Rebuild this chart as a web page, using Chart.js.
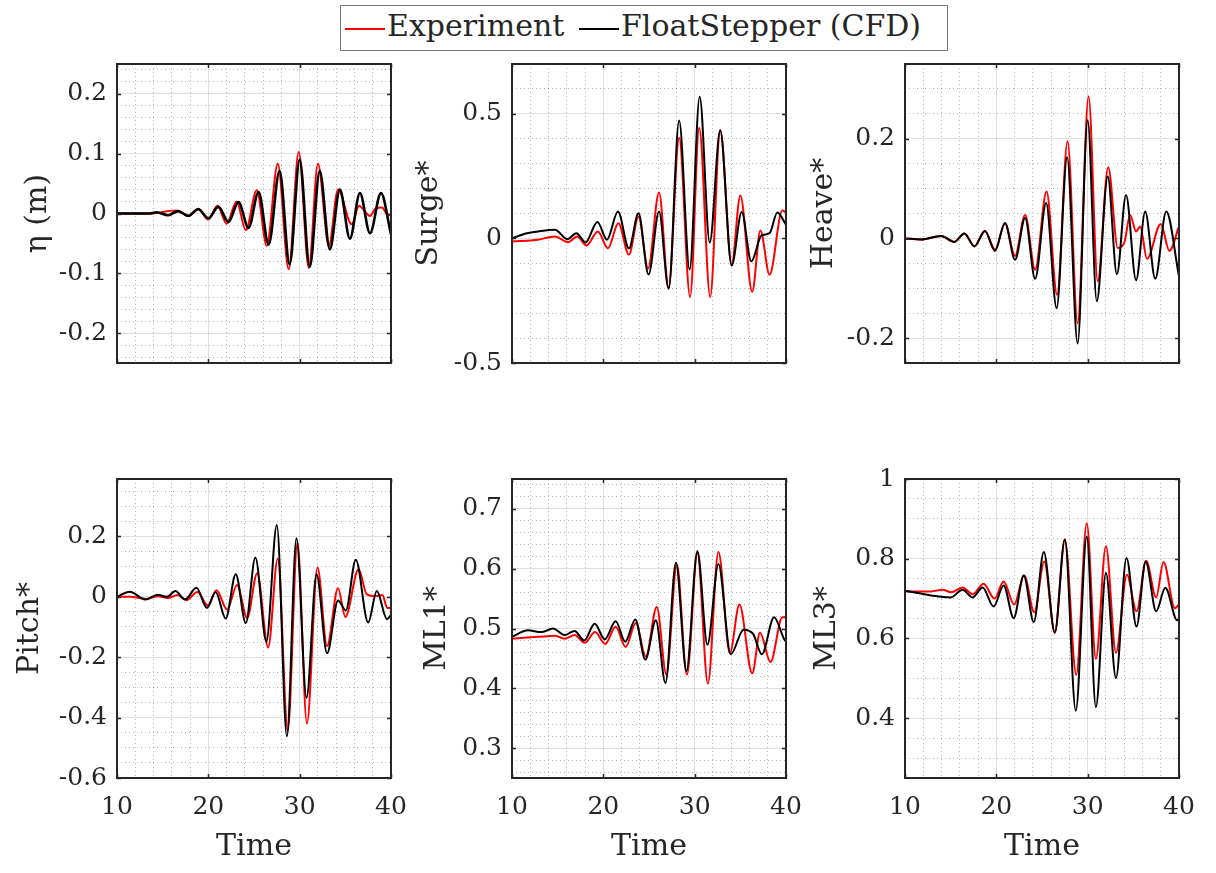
<!DOCTYPE html>
<html>
<head>
<meta charset="utf-8">
<script src="https://cdn.jsdelivr.net/npm/chart.js@4.4.0/dist/chart.umd.min.js"></script>
<style>
  body { margin: 0; background: #fff; }
  #page { position: relative; width: 1216px; height: 873px; overflow: hidden; background: #fff; }
  canvas { position: absolute; }
  #legend {
    position: absolute; left: 340px; top: 5px; width: 606px; height: 44px;
    border: 1.5px solid #7a7a7a; background: #fff;
    font-family: 'DejaVu Serif', serif; font-size: 30px; color: #262626;
  }
  #legend .sw { position: absolute; top: 22px; width: 40px; height: 2px; }
  #legend .lt { position: absolute; top: -1px; line-height: 42px; white-space: nowrap; }
</style>
</head>
<body>
<div id="page">
  <div id="legend">
    <span class="sw" style="left:4px;background:#ff0000"></span><span class="lt" style="left:46px">Experiment</span>
    <span class="sw" style="left:238px;background:#000"></span><span class="lt" style="left:280px">FloatStepper (CFD)</span>
  </div>
  <canvas id="eta"></canvas>
  <canvas id="surge"></canvas>
  <canvas id="heave"></canvas>
  <canvas id="pitch"></canvas>
  <canvas id="ml1"></canvas>
  <canvas id="ml3"></canvas>
</div>
<script>
// wave elevation eta (m)
const timeEtaExp = [10, 13.5, 16.5, 17.8, 18.9, 20.0, 21.0, 22.0, 23.1, 24.1, 25.3, 26.4, 27.6, 28.8, 29.9, 31.0, 32.0, 33.2, 34.2, 35.7, 36.5, 37.0, 37.7, 38.3, 39.0, 39.7, 40];
const etaExp = [0, 0, 0.005, -0.004, 0.008, -0.01, 0.013, -0.017, 0.02, -0.028, 0.039, -0.054, 0.083, -0.093, 0.103, -0.091, 0.083, -0.054, 0.04, -0.018, 0.013, 0.006, -0.004, 0.008, 0.01, -0.003, -0.002];
const timeEtaCfd = [10, 13.5, 14.3, 15.6, 16.7, 17.8, 18.9, 20.0, 21.1, 22.2, 23.3, 24.4, 25.5, 26.6, 27.8, 28.9, 30.0, 31.1, 32.2, 33.3, 34.4, 35.5, 36.6, 37.7, 38.9, 40];
const etaCfd = [0, 0, 0.002, -0.003, 0.004, -0.004, 0.007, -0.008, 0.011, -0.014, 0.019, -0.024, 0.036, -0.052, 0.071, -0.085, 0.09, -0.089, 0.071, -0.06, 0.04, -0.042, 0.034, -0.033, 0.034, -0.035];

// surge
const timeSurgeExp = [10, 12.85, 14.7, 16.15, 17.15, 18.15, 19.4, 20.5, 21.65, 22.8, 23.85, 24.9, 26.1, 27.15, 28.3, 29.5, 30.5, 31.7, 32.8, 34.05, 35.0, 36.3, 37.2, 38.2, 39.6, 40];
const surgeExp = [-0.012, -0.005, 0.008, -0.015, 0.008, -0.028, 0.028, -0.04, 0.061, -0.065, 0.088, -0.121, 0.184, -0.198, 0.404, -0.235, 0.444, -0.235, 0.434, -0.105, 0.172, -0.214, 0.032, -0.146, 0.112, 0.105];
const timeSurgeCfd = [10, 11.4, 12.85, 14.7, 16.05, 17.05, 18.05, 19.35, 20.4, 21.6, 22.8, 23.85, 24.95, 26.1, 27.15, 28.3, 29.45, 30.55, 31.65, 32.8, 34.05, 35.15, 36.2, 37.3, 38.2, 39.05, 40];
const surgeCfd = [0, 0.019, 0.028, 0.035, -0.003, 0.021, -0.016, 0.066, -0.005, 0.108, -0.04, 0.101, -0.145, 0.108, -0.202, 0.473, -0.125, 0.569, -0.016, 0.434, -0.109, 0.106, -0.092, 0.011, 0.021, 0.104, 0.055];

// heave
const timeHeaveExp = [10, 11.75, 13.95, 15.4, 16.5, 17.6, 18.75, 19.85, 20.95, 22.05, 23.15, 24.25, 25.5, 26.65, 27.8, 28.9, 30.1, 31.1, 32.25, 33.3, 34.0, 34.65, 35.3, 35.75, 36.5, 38.0, 38.95, 40];
const heaveExp = [0, -0.002, 0.005, -0.007, 0.01, -0.016, 0.015, -0.022, 0.03, -0.035, 0.047, -0.063, 0.094, -0.113, 0.195, -0.17, 0.285, -0.086, 0.143, -0.019, -0.009, 0.047, 0.014, 0.024, -0.041, 0.029, -0.025, 0.024];
const timeHeaveCfd = [10, 11.75, 13.95, 15.4, 16.5, 17.6, 18.75, 19.85, 20.95, 22.05, 23.15, 24.25, 25.45, 26.6, 27.75, 28.9, 30.0, 31.0, 32.2, 33.2, 34.2, 35.3, 36.3, 37.4, 38.6, 40];
const heaveCfd = [0, -0.002, 0.005, -0.007, 0.01, -0.016, 0.015, -0.025, 0.031, -0.043, 0.041, -0.081, 0.071, -0.14, 0.163, -0.211, 0.237, -0.126, 0.124, -0.072, 0.087, -0.084, 0.054, -0.081, 0.054, -0.076];

// pitch
const timePitchExp = [10, 11.4, 13.2, 14.5, 15.55, 16.65, 17.6, 18.8, 19.95, 20.9, 22.05, 23.15, 24.25, 25.35, 26.55, 27.6, 28.7, 29.75, 30.8, 31.95, 33.0, 34.2, 35.0, 36.45, 37.35, 38.3, 39.05, 39.6, 40];
const pitchExp = [0, 0, -0.007, 0.002, -0.004, 0.006, -0.011, 0.016, -0.029, 0.022, -0.042, 0.039, -0.07, 0.078, -0.168, 0.127, -0.443, 0.178, -0.419, 0.097, -0.163, 0.028, -0.067, 0.091, 0.008, 0.002, 0.006, -0.037, -0.037];
const timePitchCfd = [10, 11.4, 13.1, 14.45, 15.45, 16.4, 17.45, 18.7, 19.85, 20.8, 21.9, 23.0, 24.1, 25.15, 26.35, 27.5, 28.6, 29.65, 30.75, 31.85, 33.0, 34.2, 35.05, 36.15, 37.5, 38.45, 39.55, 40];
const pitchCfd = [0, 0.017, -0.009, 0.007, 0.0, 0.019, -0.009, 0.03, -0.037, 0.016, -0.072, 0.075, -0.087, 0.13, -0.148, 0.238, -0.462, 0.194, -0.334, 0.075, -0.187, -0.012, -0.045, 0.123, -0.085, 0.019, -0.074, -0.06];

// mooring line 1
const timeMl1Exp = [10, 12.85, 14.7, 15.75, 16.85, 17.95, 19.1, 20.2, 21.35, 22.45, 23.55, 24.65, 25.85, 26.9, 28.05, 29.15, 30.3, 31.45, 32.6, 33.85, 34.9, 36.3, 37.15, 38.3, 39.6, 40];
const ml1Exp = [0.483, 0.486, 0.488, 0.483, 0.489, 0.476, 0.494, 0.474, 0.503, 0.469, 0.509, 0.453, 0.536, 0.423, 0.607, 0.423, 0.626, 0.408, 0.628, 0.459, 0.54, 0.425, 0.493, 0.444, 0.519, 0.519];
const timeMl1Cfd = [10, 11.75, 13.2, 14.5, 15.75, 16.85, 17.9, 19.05, 20.15, 21.35, 22.4, 23.5, 24.6, 25.75, 26.8, 27.95, 29.1, 30.3, 31.4, 32.6, 33.95, 35.35, 36.4, 37.35, 38.7, 39.8, 40];
const ml1Cfd = [0.486, 0.497, 0.494, 0.5, 0.489, 0.496, 0.48, 0.508, 0.482, 0.512, 0.478, 0.515, 0.448, 0.514, 0.409, 0.61, 0.429, 0.629, 0.473, 0.608, 0.457, 0.498, 0.491, 0.457, 0.519, 0.482, 0.478];

// mooring line 3
const timeMl3Exp = [10, 12.85, 14.1, 15.05, 16.3, 17.4, 18.6, 19.8, 20.8, 21.95, 23.05, 24.15, 25.25, 26.4, 27.5, 28.75, 29.9, 30.9, 32.0, 33.1, 34.3, 35.35, 36.4, 37.5, 38.3, 39.55, 40];
const ml3Exp = [0.718, 0.718, 0.722, 0.716, 0.728, 0.711, 0.737, 0.7, 0.743, 0.685, 0.758, 0.666, 0.793, 0.614, 0.848, 0.509, 0.889, 0.549, 0.831, 0.564, 0.76, 0.668, 0.795, 0.703, 0.792, 0.676, 0.686];
const timeMl3Cfd = [10, 11.4, 12.85, 15.0, 16.3, 17.4, 18.5, 19.7, 20.8, 21.9, 23.0, 24.1, 25.2, 26.4, 27.5, 28.7, 29.9, 30.9, 32.0, 33.1, 34.25, 35.35, 36.35, 37.5, 38.5, 39.8, 40];
const ml3Cfd = [0.72, 0.714, 0.708, 0.703, 0.722, 0.703, 0.728, 0.68, 0.733, 0.651, 0.758, 0.641, 0.817, 0.615, 0.848, 0.419, 0.856, 0.428, 0.764, 0.501, 0.802, 0.63, 0.793, 0.668, 0.727, 0.646, 0.648];

// tick values shown on the axes
const timeTicks = [10, 20, 30, 40];
const etaTicks = [-0.2, -0.1, 0, 0.1, 0.2];
const surgeTicks = [-0.5, 0, 0.5];
const heaveTicks = [-0.2, 0, 0.2];
const pitchTicks = [-0.6, -0.4, -0.2, 0, 0.2];
const ml1Ticks = [0.3, 0.4, 0.5, 0.6, 0.7];
const ml3Ticks = [0.4, 0.6, 0.8, 1];

const xLabel = 'Time';
const seriesNames = ['Experiment', 'FloatStepper (CFD)'];

Chart.defaults.font.family = "'DejaVu Serif', serif";
Chart.defaults.color = '#262626';

const GRID_MAJOR = 'rgba(38,38,38,0.15)';
const GRID_MINOR = 'rgba(38,38,38,0.32)';
const plotLefts = [117, 512, 905];
const plotTops = [64, 479];

function pts(t, v) {
  return t.map((x, i) => ({ x: x, y: v[i] }));
}

function isMultiple(v, step) {
  const r = v / step;
  return Math.abs(r - Math.round(r)) < 1e-6;
}

// dotted minor grid positions between min and max
function minorTicks(min, max, step) {
  const out = [];
  for (let k = Math.ceil(min / step - 1e-9); k * step <= max + 1e-9; k++) {
    out.push({ value: +(k * step).toFixed(6) });
  }
  return out;
}

// matlab style box with tick marks pointing in
const boxPlugin = {
  id: 'box',
  afterDraw(chart) {
    const { ctx, chartArea: a, scales } = chart;
    ctx.save();
    ctx.strokeStyle = '#262626';
    ctx.lineWidth = 1.5;
    ctx.beginPath();
    scales.x.ticks.forEach((t) => {
      const px = Math.round(scales.x.getPixelForValue(t.value)) + 0.5;
      ctx.moveTo(px, a.bottom); ctx.lineTo(px, a.bottom - 4);
      ctx.moveTo(px, a.top); ctx.lineTo(px, a.top + 4);
    });
    scales.y.ticks.forEach((t) => {
      const py = Math.round(scales.y.getPixelForValue(t.value)) + 0.5;
      ctx.moveTo(a.left, py); ctx.lineTo(a.left + 4, py);
      ctx.moveTo(a.right, py); ctx.lineTo(a.right - 4, py);
    });
    ctx.stroke();
    ctx.lineWidth = 2;
    ctx.strokeRect(a.left, a.top, a.right - a.left, a.bottom - a.top);
    ctx.restore();
  }
};

function makePanel(p) {
  const bottomRow = p.row === 1;
  const canvas = document.getElementById(p.id);
  const xHeight = bottomRow ? 95 : 25;
  canvas.width = 117 + 274 + 24;
  canvas.height = 20 + 299 + xHeight;
  canvas.style.left = (plotLefts[p.col] - 117) + 'px';
  canvas.style.top = (plotTops[p.row] - 20) + 'px';

  new Chart(canvas, {
    type: 'line',
    data: {
      datasets: [
        { label: seriesNames[0], data: pts(p.expT, p.expV), borderColor: '#ff0000', borderWidth: 2, order: 1 },
        { label: seriesNames[1], data: pts(p.cfdT, p.cfdV), borderColor: '#000000', borderWidth: p.cfdWidth || 2, order: 0 }
      ]
    },
    options: {
      responsive: false,
      animation: false,
      devicePixelRatio: 1,
      layout: { padding: { top: 20, right: 24, left: 0, bottom: 0 } },
      elements: {
        point: { radius: 0 },
        line: { cubicInterpolationMode: 'monotone', fill: false }
      },
      plugins: { legend: { display: false }, tooltip: { enabled: false } },
      scales: {
        x: {
          type: 'linear', position: 'bottom', min: 10, max: 40,
          ticks: { display: bottomRow, padding: 14, maxRotation: 0, autoSkip: false, font: { size: 25 } },
          afterBuildTicks: (s) => { s.ticks = timeTicks.map((v) => ({ value: v })); },
          grid: { color: GRID_MAJOR, drawTicks: false },
          border: { display: false },
          title: { display: bottomRow, text: xLabel, font: { size: 30 }, padding: { top: 0, bottom: 8 } },
          afterFit: (s) => { s.height = xHeight; s.paddingLeft = 0; s.paddingRight = 0; }
        },
        xm: {
          type: 'linear', position: 'bottom', min: 10, max: 40,
          ticks: { display: false },
          afterBuildTicks: (s) => { s.ticks = minorTicks(10, 40, 2); },
          grid: { color: (c) => (c.tick && isMultiple(c.tick.value, 10)) ? 'rgba(0,0,0,0)' : GRID_MINOR, drawTicks: false },
          border: { display: false, dash: [1, 3] },
          afterFit: (s) => { s.height = 0; s.paddingLeft = 0; s.paddingRight = 0; }
        },
        y: {
          type: 'linear', position: 'left', min: p.yMin, max: p.yMax,
          ticks: {
            padding: 10, autoSkip: false, font: { size: 25 },
            callback: (v) => String(Math.round(v * 1000) / 1000)
          },
          afterBuildTicks: (s) => { s.ticks = p.yTicks.map((v) => ({ value: v })); },
          grid: { color: GRID_MAJOR, drawTicks: false },
          border: { display: false },
          title: { display: true, text: p.yTitle, font: { size: 30 }, padding: { top: p.titlePad, bottom: 0 } },
          afterFit: (s) => { s.width = 117; s.paddingTop = 0; s.paddingBottom = 0; }
        },
        ym: {
          type: 'linear', position: 'left', min: p.yMin, max: p.yMax,
          ticks: { display: false },
          afterBuildTicks: (s) => { s.ticks = minorTicks(p.yMin, p.yMax, p.yMinor); },
          grid: { color: (c) => (c.tick && isMultiple(c.tick.value, p.yMajor)) ? 'rgba(0,0,0,0)' : GRID_MINOR, drawTicks: false },
          border: { display: false, dash: [1, 3] },
          afterFit: (s) => { s.width = 0; s.paddingTop = 0; s.paddingBottom = 0; }
        }
      }
    },
    plugins: [boxPlugin]
  });
}

makePanel({ id: 'eta', col: 0, row: 0, yTitle: 'η (m)', yMin: -0.25, yMax: 0.25, yTicks: etaTicks, yMajor: 0.1, yMinor: 0.02, titlePad: 20,
  expT: timeEtaExp, expV: etaExp, cfdT: timeEtaCfd, cfdV: etaCfd, cfdWidth: 2.6 });
makePanel({ id: 'surge', col: 1, row: 0, yTitle: 'Surge*', yMin: -0.5, yMax: 0.7, yTicks: surgeTicks, yMajor: 0.5, yMinor: 0.1, titlePad: 16,
  expT: timeSurgeExp, expV: surgeExp, cfdT: timeSurgeCfd, cfdV: surgeCfd });
makePanel({ id: 'heave', col: 2, row: 0, yTitle: 'Heave*', yMin: -0.25, yMax: 0.35, yTicks: heaveTicks, yMajor: 0.2, yMinor: 0.05, titlePad: 18,
  expT: timeHeaveExp, expV: heaveExp, cfdT: timeHeaveCfd, cfdV: heaveCfd });
makePanel({ id: 'pitch', col: 0, row: 1, yTitle: 'Pitch*', yMin: -0.6, yMax: 0.39, yTicks: pitchTicks, yMajor: 0.2, yMinor: 0.05, titlePad: 12,
  expT: timePitchExp, expV: pitchExp, cfdT: timePitchCfd, cfdV: pitchCfd });
makePanel({ id: 'ml1', col: 1, row: 1, yTitle: 'ML1*', yMin: 0.25, yMax: 0.75, yTicks: ml1Ticks, yMajor: 0.1, yMinor: 0.02, titlePad: 24,
  expT: timeMl1Exp, expV: ml1Exp, cfdT: timeMl1Cfd, cfdV: ml1Cfd });
makePanel({ id: 'ml3', col: 2, row: 1, yTitle: 'ML3*', yMin: 0.25, yMax: 1, yTicks: ml3Ticks, yMajor: 0.2, yMinor: 0.05, titlePad: 21,
  expT: timeMl3Exp, expV: ml3Exp, cfdT: timeMl3Cfd, cfdV: ml3Cfd });
</script>
</body>
</html>
